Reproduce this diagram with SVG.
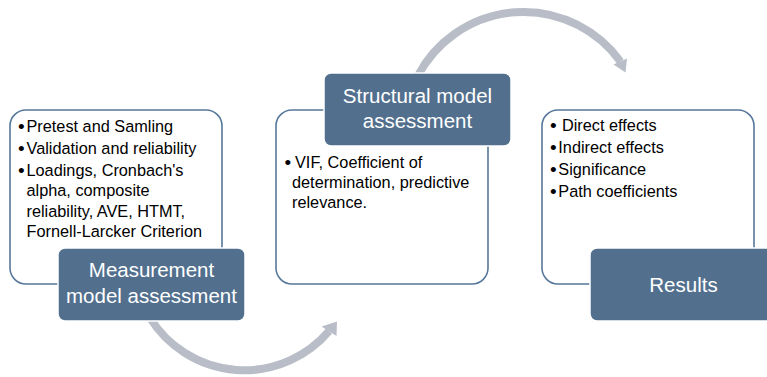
<svg xmlns="http://www.w3.org/2000/svg" width="767" height="377" viewBox="0 0 767 377">
<style>
.panel{fill:#ffffff;stroke:#57789A;stroke-width:1.6}
.label{fill:#52708E;stroke:#ffffff;stroke-width:1.5}
.body{font-family:"Liberation Sans",Arial,sans-serif;font-size:16.3px;fill:#000000}
.b{font-size:19px}
.title{font-family:"Liberation Sans",Arial,sans-serif;font-size:20.5px;fill:#ffffff;text-anchor:middle}
.arc{fill:none;stroke:#B8BDC7;stroke-width:8}
.head{fill:#B8BDC7}
</style>
<rect width="767" height="377" fill="#ffffff"/>
<g id="connectors">
<path class="arc" d="M 150.1 318 A 111.2 111.2 0 0 0 329 331.2"/>
<polygon class="head" points="337,321.5 321.5,326.5 336.5,336"/>
<path class="arc" d="M 417.7 76 A 119.5 119.5 0 0 1 620.4 61.5"/>
<polygon class="head" points="625.5,72.5 613.5,64.5 627,58.5"/>
</g>
<g id="node-measurement">
<rect class="panel" x="10" y="110" width="212" height="174" rx="16"/>
<text class="body"><tspan class="b" x="18" y="133">•</tspan><tspan x="26.5" y="132">Pretest and Samling</tspan></text>
<text class="body"><tspan class="b" x="18" y="155">•</tspan><tspan x="26.5" y="154">Validation and reliability</tspan></text>
<text class="body"><tspan class="b" x="18" y="176.5">•</tspan><tspan x="26.5" y="175.5">Loadings, Cronbach's</tspan><tspan x="26.5" y="196">alpha, composite</tspan><tspan x="26.5" y="216.5">reliability, AVE, HTMT,</tspan><tspan x="26.5" y="237">Fornell-Larcker Criterion</tspan></text>
<rect class="label" x="58" y="248" width="187" height="73" rx="7"/>
<text class="title"><tspan x="151.5" y="277">Measurement</tspan><tspan x="151.5" y="302.5">model assessment</tspan></text>
</g>
<g id="node-structural">
<rect class="panel" x="276" y="110" width="212" height="174" rx="16"/>
<text class="body"><tspan class="b" x="284.5" y="169">•</tspan><tspan x="295" y="168">VIF, Coefficient of</tspan><tspan x="292" y="188">determination, predictive</tspan><tspan x="292" y="207.5">relevance.</tspan></text>
<rect class="label" x="324" y="73" width="187" height="73" rx="7"/>
<text class="title"><tspan x="417.5" y="103">Structural model</tspan><tspan x="417.5" y="127.5">assessment</tspan></text>
</g>
<g id="node-results">
<rect class="panel" x="542" y="110" width="212" height="174" rx="16"/>
<text class="body"><tspan class="b" x="550" y="132">•</tspan><tspan x="562" y="131">Direct effects</tspan></text>
<text class="body"><tspan class="b" x="550" y="154">•</tspan><tspan x="558.3" y="153">Indirect effects</tspan></text>
<text class="body"><tspan class="b" x="550" y="176">•</tspan><tspan x="558.3" y="175">Significance</tspan></text>
<text class="body"><tspan class="b" x="550" y="198">•</tspan><tspan x="558.3" y="197">Path coefficients</tspan></text>
<rect class="label" x="590" y="248" width="187" height="73" rx="7"/>
<text class="title" x="683.5" y="292">Results</text>
</g>
</svg>
